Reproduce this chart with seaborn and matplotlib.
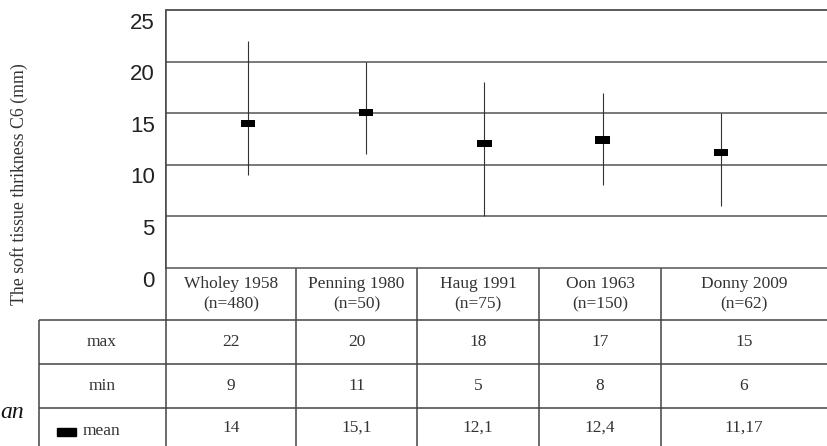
import numpy as np
import pandas as pd
import matplotlib
matplotlib.use('Agg')
import matplotlib.pyplot as plt
from matplotlib.path import Path
from matplotlib.patches import Rectangle
import seaborn as sns

studies = ['Wholey 1958', 'Penning 1980', 'Haug 1991', 'Oon 1963', 'Donny 2009']
sample_sizes = ['(n=480)', '(n=50)', '(n=75)', '(n=150)', '(n=62)']
max_vals = [22, 20, 18, 17, 15]
min_vals = [9, 11, 5, 8, 6]
mean_vals = [14, 15.1, 12.1, 12.4, 11.17]
mean_labels = ['14', '15,1', '12,1', '12,4', '11,17']
y_ticks = [0, 5, 10, 15, 20, 25]

df = pd.DataFrame({'study': studies, 'max': max_vals, 'min': min_vals, 'mean': mean_vals})

sns.set_theme(style='white')
plt.rcParams['font.family'] = ['Liberation Serif', 'DejaVu Serif']

W, H = 827, 446
fig = plt.figure(figsize=(W / 100, H / 100), dpi=100)

# pixel layout
left, right, top, bottom = 166, 827, 10, 268
col_edges = [166, 296, 417, 539, 661, 827]
row_edges = [268, 320, 364, 408, 446]
grid_col = '#555555'
line_col = '#444444'

ax = fig.add_axes([left / W, 1 - bottom / H, (right - left) / W, (bottom - top) / H])
ax.vlines(df['study'], df['min'], df['max'], color='#333333', lw=0.8, zorder=2)
rect_marker = Path([(-1, -0.5), (1, -0.5), (1, 0.5), (-1, 0.5), (-1, -0.5)],
                   [Path.MOVETO, Path.LINETO, Path.LINETO, Path.LINETO, Path.CLOSEPOLY])
sns.scatterplot(data=df, x='study', y='mean', marker=rect_marker, s=105, color='black',
                edgecolor='none', ax=ax, zorder=3, legend=False)
ax.set_xlim(-0.695, 4.9)
ax.set_ylim(0, 25)
ax.set_yticks(y_ticks)
ax.set_yticklabels([])
ax.tick_params(axis='y', length=0)
# tick labels sit just below their gridline
for t in y_ticks:
    ax.text(-0.017, t - 0.25, str(t), transform=ax.get_yaxis_transform(), ha='right', va='top',
            family='Liberation Sans', fontsize=16, color='#222222')
ax.set_xticks([])
ax.set_xlabel('')
ax.set_ylabel('')
for t in y_ticks:
    ax.axhline(t, color=grid_col, lw=1.1, zorder=1, clip_on=False)
for side in ['right', 'bottom']:
    ax.spines[side].set_visible(False)
ax.spines['top'].set_color(grid_col)
ax.spines['top'].set_linewidth(1.1)
ax.spines['left'].set_color(line_col)
ax.spines['left'].set_linewidth(1.1)

# table drawn in pixel coordinates
tab = fig.add_axes([0, 0, 1, 1], zorder=-1)
tab.set_xlim(0, W)
tab.set_ylim(H, 0)
tab.axis('off')
tab.vlines(166, top, H, color=line_col, lw=1.1)
tab.vlines(col_edges[1:-1], row_edges[0], H, color=line_col, lw=1.1)
tab.vlines(39, row_edges[1], H, color=line_col, lw=1.1)
tab.hlines(row_edges[1:4], 39, W, color=line_col, lw=1.1)

txt_kw = dict(ha='center', va='center', fontsize=12.5, color='#333333')
for i, (name, n) in enumerate(zip(studies, sample_sizes)):
    cx = (col_edges[i] + col_edges[i + 1]) / 2
    tab.text(cx, 284, name, **txt_kw)
    tab.text(cx, 304, n, **txt_kw)
    tab.text(cx, 342, str(max_vals[i]), **txt_kw)
    tab.text(cx, 386, str(min_vals[i]), **txt_kw)
    tab.text(cx, 428, mean_labels[i], **txt_kw)

tab.text(102, 342, 'max', **txt_kw)
tab.text(102, 386, 'min', **txt_kw)
tab.add_patch(Rectangle((57, 428), 19, 8, color='black'))
tab.text(83, 431, 'mean', ha='left', va='center', fontsize=12.5, color='#333333')
tab.text(0, 412, 'an', ha='left', va='center', fontsize=17, style='italic', color='#111111')

fig.text(19 / W, 1 - 184 / H, 'The soft tissue thrikness C6 (mm)', rotation=90,
         ha='center', va='center', fontsize=12.8, color='#333333')

fig.savefig('out.png', dpi=100)
